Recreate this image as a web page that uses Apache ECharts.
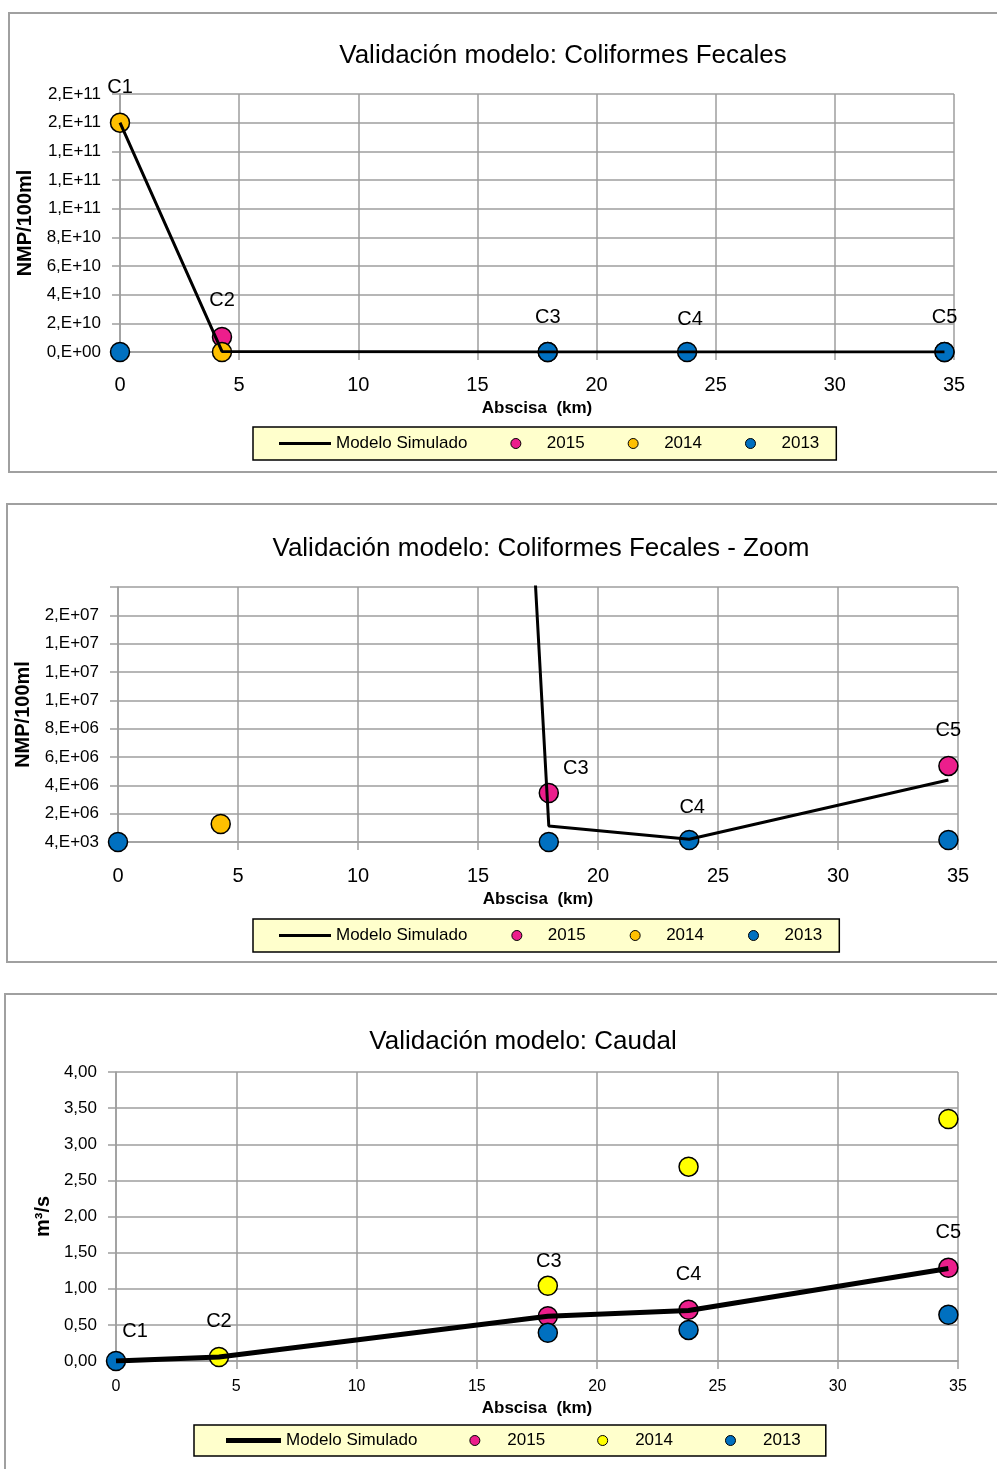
<!DOCTYPE html>
<html>
<head>
<meta charset="utf-8">
<script src="https://cdn.jsdelivr.net/npm/echarts@6/dist/echarts.min.js"></script>
<style>
    html, body { margin: 0; padding: 0; background: #fff; width: 997px; height: 1469px; overflow: hidden; }
    .box { position: absolute; border: 2px solid #a0a0a0; background: #fff; }
</style>
</head>
<body>
<div id="cf" class="box" style="left:8px;top:12px;width:1010px;height:457px"></div>
<div id="cf-zoom" class="box" style="left:6px;top:503px;width:1010px;height:456px"></div>
<div id="caudal" class="box" style="left:4px;top:993px;width:1010px;height:490px"></div>
<script>
// estaciones de muestreo y su abscisa (km)
const stations = ['C1', 'C2', 'C3', 'C4', 'C5'];
const abscisaKm = [0, 4.28, 17.95, 23.8, 34.6];

// coliformes fecales (NMP/100ml) por estacion, null = sin dato
const fcModel = [1.6e11, 4.2e8, 1.13e6, 2.0e5, 4.38e6];
const fc2015 = [null, 1.05e10, 3.46e6, null, 5.37e6];
const fc2014 = [1.6e11, 1.27e6, null, null, null];
const fc2013 = [0, null, 0, 1.4e5, 1.4e5];

// caudal (m3/s) por estacion
const qModel = [0, 0.055, 0.62, 0.70, 1.28];
const q2015 = [null, null, 0.62, 0.71, 1.29];
const q2014 = [null, 0.055, 1.04, 2.69, 3.35];
const q2013 = [0, null, 0.39, 0.43, 0.64];

// etiquetas del eje y tal como aparecen
const fcTickLabels = ['0,E+00', '2,E+10', '4,E+10', '6,E+10', '8,E+10', '1,E+11', '1,E+11', '1,E+11', '2,E+11', '2,E+11'];
const fcZoomTickLabels = ['4,E+03', '2,E+06', '4,E+06', '6,E+06', '8,E+06', '1,E+07', '1,E+07', '1,E+07', '2,E+07', ''];
const qTickLabels = ['0,00', '0,50', '1,00', '1,50', '2,00', '2,50', '3,00', '3,50', '4,00'];

const FONT = '"Liberation Sans", Arial, sans-serif';
const GRID_COLOR = '#9e9e9e';
const colors = {
    '2015': '#EC1E8C',
    '2014': '#FFC000',
    '2013': '#0070C0'
};

function makeChart(id, cfg) {
    let chart = echarts.init(document.getElementById(id));
    // puntos [km, valor]; los que quedan fuera del eje no se dibujan
    let pts = (vals) => vals
        .map((v, i) => (v === null || v > cfg.yMax) ? null : [abscisaKm[i], v])
        .filter((p) => p);
    let linePts = cfg.model.map((v, i) => [abscisaKm[i], v]);

    let scatter = (name, vals, color) => ({
        name: name,
        type: 'scatter',
        data: pts(vals),
        symbolSize: 19,
        clip: false,
        itemStyle: {color: color, borderColor: '#000', borderWidth: 1.5, opacity: 1}
    });

    // etiquetas C1..C5 ancladas a un punto de cada estacion
    let tagData = cfg.tags.map((t) => ({
        value: [abscisaKm[t[0]], t[1][t[0]]],
        label: {
            show: true,
            position: 'inside',
            offset: [t[2], t[3]],
            formatter: stations[t[0]],
            color: '#000',
            opacity: 1,
            textBorderWidth: 0,
            fontFamily: FONT,
            fontSize: 20
        }
    }));

    let axisLine = {show: true, lineStyle: {color: GRID_COLOR, width: 1.5}};
    let split = {show: true, lineStyle: {color: GRID_COLOR, width: 1.5}};
    let tick = {show: true, inside: false, length: 8, lineStyle: {color: GRID_COLOR, width: 1.5}};
    let lw = cfg.lineWidth;

    let option = {
        animation: false,
        title: {
            text: cfg.title,
            left: cfg.titleX,
            top: cfg.titleY,
            textAlign: 'center',
            padding: 0,
            textStyle: {fontFamily: FONT, fontSize: 26, fontWeight: 'normal', color: '#000'}
        },
        legend: {
            data: [
                {name: 'Modelo Simulado', icon: 'path://M0,0L' + cfg.legendItemWidth + ',0L' + cfg.legendItemWidth + ',' + lw + 'L0,' + lw + 'Z', itemStyle: {color: '#000', borderWidth: 0}},
                {name: '2015', icon: 'circle'},
                {name: '2014', icon: 'circle'},
                {name: '2013', icon: 'circle'}
            ],
            left: cfg.legendX,
            top: cfg.legendY,
            itemWidth: cfg.legendItemWidth,
            itemHeight: 10,
            itemGap: cfg.legendGap,
            symbolKeepAspect: true,
            padding: cfg.legendPadding,
            backgroundColor: '#FFFFCC',
            borderColor: '#000',
            borderWidth: 1.5,
            selectedMode: false,
            itemStyle: {borderWidth: 1, borderColor: '#000'},
            textStyle: {fontFamily: FONT, fontSize: 17, color: '#000'}
        },
        grid: {
            left: cfg.grid[0],
            top: cfg.grid[1],
            width: cfg.grid[2],
            height: cfg.grid[3],
            containLabel: false,
            outerBoundsMode: 'none'
        },
        xAxis: {
            type: 'value',
            min: 0,
            max: 35,
            interval: 5,
            name: 'Abscisa  (km)',
            nameLocation: 'middle',
            nameGap: cfg.xNameGap,
            nameTextStyle: {fontFamily: FONT, fontSize: 17, fontWeight: 'bold', color: '#000'},
            axisLine: axisLine,
            axisTick: tick,
            splitLine: split,
            axisLabel: {
                margin: cfg.xLabelMargin,
                fontFamily: FONT,
                fontSize: cfg.xLabelSize,
                color: '#000'
            }
        },
        yAxis: {
            type: 'value',
            min: 0,
            max: cfg.yMax,
            interval: cfg.yStep,
            name: cfg.yName,
            nameLocation: 'middle',
            nameGap: cfg.yNameGap,
            nameTextStyle: {fontFamily: FONT, fontSize: 20, fontWeight: 'bold', color: '#000'},
            axisLine: axisLine,
            axisTick: tick,
            splitLine: split,
            axisLabel: {
                margin: 19,
                fontFamily: FONT,
                fontSize: 17,
                color: '#000',
                formatter: (v, i) => cfg.tickLabels[i]
            }
        },
        series: [
            {
                name: 'Modelo Simulado',
                type: 'line',
                data: linePts,
                symbol: 'none',
                clip: true,
                lineStyle: {color: '#000', width: lw},
                itemStyle: {color: '#000'}
            },
            scatter('2015', cfg.s2015, colors['2015']),
            scatter('2014', cfg.s2014, cfg.color2014),
            scatter('2013', cfg.s2013, colors['2013']),
            {
                name: 'etiquetas',
                type: 'scatter',
                data: tagData,
                symbolSize: 1,
                clip: false,
                silent: true,
                z: 5,
                itemStyle: {color: 'rgba(0,0,0,0)'}
            }
        ]
    };
    chart.setOption(option);
    return chart;
}

makeChart('cf', {
    title: 'Validación modelo: Coliformes Fecales',
    titleX: 553, titleY: 29,
    grid: [110, 80, 834, 258],
    yMax: 1.8e11, yStep: 2e10,
    tickLabels: fcTickLabels,
    yName: 'NMP/100ml', yNameGap: 72,
    xNameGap: 48, xLabelMargin: 23, xLabelSize: 20,
    model: fcModel, s2015: fc2015, s2014: fc2014, s2013: fc2013,
    color2014: colors['2014'],
    lineWidth: 3,
    legendX: 243, legendY: 413, legendItemWidth: 52, legendGap: 43, legendPadding: [8, 17, 8, 26],
    tags: [[0, fc2014, 0, -35], [1, fc2015, 0, -36], [2, fc2013, 0, -35], [3, fc2013, 3, -33], [4, fc2013, 0, -35]]
});

makeChart('cf-zoom', {
    title: 'Validación modelo: Coliformes Fecales - Zoom',
    titleX: 533, titleY: 31,
    grid: [110, 82, 840, 255],
    yMax: 1.8e7, yStep: 2e6,
    tickLabels: fcZoomTickLabels,
    yName: 'NMP/100ml', yNameGap: 72,
    xNameGap: 49, xLabelMargin: 24, xLabelSize: 20,
    model: fcModel, s2015: fc2015, s2014: fc2014, s2013: fc2013,
    color2014: colors['2014'],
    lineWidth: 3,
    legendX: 245, legendY: 414, legendItemWidth: 52, legendGap: 44, legendPadding: [8, 17, 8, 26],
    tags: [[2, fc2015, 27, -24], [3, fc2013, 3, -33], [4, fc2015, 0, -35]]
});

makeChart('caudal', {
    title: 'Validación modelo: Caudal',
    titleX: 517, titleY: 34,
    grid: [110, 77, 842, 289],
    yMax: 4, yStep: 0.5,
    tickLabels: qTickLabels,
    yName: 'm³/s', yNameGap: 54,
    xNameGap: 39, xLabelMargin: 18, xLabelSize: 16,
    model: qModel, s2015: q2015, s2014: q2014, s2013: q2013,
    color2014: '#FFFF00',
    lineWidth: 5,
    legendX: 188, legendY: 430, legendItemWidth: 55, legendGap: 52, legendPadding: [7, 25, 7, 32],
    tags: [[0, q2013, 19, -30], [1, q2014, 0, -36], [2, q2014, 1, -24], [3, q2015, 0, -35], [4, q2015, 0, -35]]
});
</script>
</body>
</html>
